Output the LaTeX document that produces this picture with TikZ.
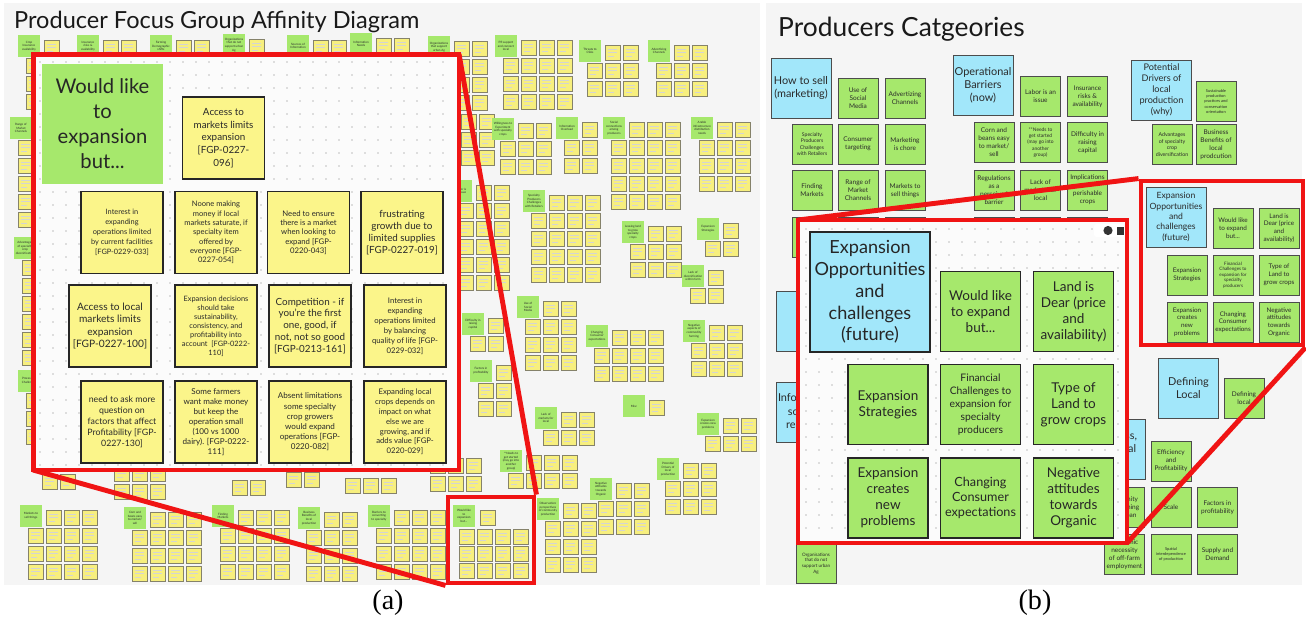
\documentclass[tikz,border=0pt]{standalone}
\usepackage{fontspec}
\setmainfont{Lato}
\newfontfamily\capfont{Liberation Serif}
\usetikzlibrary{positioning}

\definecolor{boardbg}{HTML}{F5F5F5}
\definecolor{insetbg}{HTML}{FBFBFB}
\definecolor{noteyel}{HTML}{FBF58A}
\definecolor{tinyyel}{HTML}{F7EF7E}
\definecolor{stickedge}{HTML}{85826A}
\definecolor{notegrn}{HTML}{A6E86C}
\definecolor{noteblu}{HTML}{A2E7FA}
\definecolor{zoomred}{HTML}{F01414}
\definecolor{inktext}{HTML}{2A2A2A}

\newcommand{\fs}[2]{\fontsize{#1}{#2}\selectfont}

% a tiny sticky with scribbled lines for its text
\newcommand{\sticky}[2]{%
  \draw[tinynote] ({#1},{#2}) rectangle ++(15,15);
  \draw[scrib] ({#1+3},{#2+4}) -- ++(9,0) ({#1+3},{#2+7.5}) -- ++(9,0) ({#1+3},{#2+11}) -- ++(6,0);}

% green header with its stickies: name, x, y, cols, rows, label
\newcommand{\cluster}[6]{%
  \foreach \cc in {1,...,#4}{\foreach \rr in {1,...,#5}{%
    \ifnum\cc\rr=11 \else\sticky{#2+8+(\cc-1)*18}{#3+5+(\rr-1)*18}\fi}}
  \node[hdr] (#1) at ({#2+11},{#3+11}) {#6};}

% stickies only
\newcommand{\stickgrid}[4]{%
  \foreach \cc in {1,...,#3}{\foreach \rr in {1,...,#4}{%
    \sticky{#1+(\cc-1)*18}{#2+(\rr-1)*18}}}}

\begin{document}
\begin{tikzpicture}[x=0.02cm, y=-0.02cm,
    tinynote/.style={fill=tinyyel, draw=stickedge, line width=0.35pt},
    scrib/.style={draw=black!17, line width=0.2pt},
    hdr/.style={fill=notegrn, minimum size=0.44cm, inner sep=0.2pt, align=center, text=inktext, font=\fs{1.7}{2.1}},
    ynote/.style={fill=noteyel, draw=black!85, line width=1.1pt, minimum size=1.64cm, inner sep=0.5pt, align=center, text=inktext},
    bighdr/.style={fill=notegrn, minimum width=2.42cm, minimum height=2.4cm, align=center, text=black!85, font=\fs{11.5}{14.2}},
    gnote/.style={fill=notegrn, draw=black!85, line width=1.1pt, minimum size=1.6cm, inner sep=0.5pt, align=center, text=black!85, font=\fs{7.7}{9.1}},
    bnote/.style={fill=noteblu, draw=black!85, line width=1.1pt, minimum size=2.4cm, inner sep=0.5pt, align=center, text=black!85, font=\fs{10.3}{12.4}},
    gsm/.style={fill=notegrn, draw=black!70, line width=0.5pt, minimum size=0.8cm, inner sep=0.3pt, align=center, text=inktext, font=\fs{3.7}{4.6}},
    bsm/.style={fill=noteblu, draw=black!70, line width=0.5pt, minimum size=1.2cm, inner sep=0.3pt, align=center, text=inktext, font=\fs{6.2}{7.5}},
    zoombox/.style={draw=zoomred, line width=2.8pt},
    zoomline/.style={draw=zoomred, line width=2.8pt},
    gdot/.style={fill=black!25},
    capt/.style={font=\capfont\fs{16}{18}}
]
\useasboundingbox (0,0) rectangle (1306,619);

% boards
\fill[boardbg] (4,3) rectangle (760,585);
\fill[boardbg] (766,3) rectangle (1302,585);

%%%%%%%%%%%%%%%% (a) affinity board %%%%%%%%%%%%%%%%
\node[anchor=base west, font=\fs{13.4}{16}, text=black!90] (titleA) at (8,28) {Producer Focus Group Affinity Diagram};

% top strip
\cluster{crop}{18}{35}{2}{4}{Crop\\Insurance\\availability}
\cluster{insrisk}{77}{35}{3}{2}{Insurance\\risks \&\\availability}
\cluster{demog}{150}{35}{3}{2}{Farming\\Demographic\\shifts}
\cluster{orgno}{223}{34}{2}{2}{Organizations\\that do not\\support urban\\Ag}
\cluster{sources}{287}{35}{3}{2}{Sources of\\Information}
\cluster{infoneed}{350}{33}{3}{2}{Information\\Needs}
\cluster{orgyes}{428}{36}{3}{4}{Organizations\\that support\\urban Ag}

% left column
\cluster{range}{10}{117}{1}{6}{Range of\\Market\\Channels}
\cluster{advant}{14}{237}{2}{7}{Advantages\\of specialty\\crop\\diversification}
\cluster{processing}{18}{370}{2}{4}{Processing\\Challenges}

% middle
\stickgrid{461}{114}{2}{3}
\cluster{prsup}{495}{35}{4}{4}{PR support\\and connect\\local}
\cluster{csa}{579}{40}{3}{3}{Threats to\\CSAs}
\cluster{advch}{648}{40}{3}{3}{Advertizing\\Channels}
\cluster{willing}{492}{118}{3}{3}{Willingness to\\Experiment\\with specialty\\crops}
\cluster{overload}{556}{117}{2}{3}{Information\\Overload}
\cluster{social}{603}{117}{4}{5}{Social\\connections\\among\\producers}
\cluster{infra}{691}{117}{3}{4}{Arable\\infrastructure\\distribution\\needs}
\cluster{labor}{450}{180}{3}{6}{Labor is\\an issue}
\cluster{retail}{523}{190}{4}{5}{Specialty\\Producers\\Challenges\\with Retailers}
\cluster{leasing}{622}{221}{3}{3}{Leasing land\\to grow\\specialty\\crops}
\cluster{expstr}{697}{218}{2}{2}{Expansion\\Strategies}
\cluster{divers}{682}{265}{2}{2}{Lack of\\diversification\\within farm}
\cluster{socmed}{517}{296}{3}{4}{Use of\\Social\\Media}
\cluster{capital}{462}{313}{2}{2}{Difficulty in\\raising\\capital}
\cluster{factors}{470}{360}{2}{3}{Factors in\\profitability}
\cluster{motiv}{586}{325}{4}{3}{Changing\\Consumer\\expectations}
\cluster{negcom}{683}{320}{3}{3}{Negative\\aspects of\\commodity\\farming}
\cluster{misc}{623}{395}{2}{1}{Misc}
\cluster{lackm}{535}{407}{3}{2}{Lack of\\markets for\\local}
\cluster{expcr}{697}{413}{3}{2}{Expansion\\creates new\\problems}
\cluster{needs}{500}{450}{4}{2}{**Needs to\\get started\\(may go into\\another\\group)}
\cluster{drivers}{657}{458}{3}{3}{Potential\\Drivers of\\local\\production}
\cluster{negorg}{590}{478}{3}{3}{Negative\\attitudes\\towards\\Organic}

% under the zoom and bottom row
\stickgrid{42}{474}{2}{1}
\stickgrid{114}{466}{3}{2}
\stickgrid{232}{480}{2}{1}
\stickgrid{286}{472}{2}{1}
\stickgrid{345}{478}{3}{1}
\stickgrid{430}{458}{3}{2}
\cluster{mkts}{20}{505}{4}{4}{Markets to\\sell things}
\cluster{cornb}{124}{507}{4}{4}{Corn and\\beans easy\\to market/\\sell}
\cluster{findm}{212}{505}{4}{4}{Finding\\Markets}
\cluster{busb}{298}{507}{3}{4}{Business\\Benefits of\\local\\production}
\cluster{barr}{368}{505}{4}{4}{Barriers to\\converting\\to specialty}
\cluster{observ}{537}{498}{3}{4}{Observation:\\perspectives\\of community\\production}

% the group that gets enlarged
\sticky{480}{510}
\foreach \cc in {1,...,4}{\foreach \rr in {1,...,3}{\sticky{459+(\cc-1)*18}{529+(\rr-1)*17}}}
\node[hdr] (wouldsm) at (464,516) {Would like\\to\\expansion\\but...};
\node[zoombox, minimum size=1.72cm] (smallA) at (491,540) {};

% zoomed view
\draw[zoomline] (smallA.south west) -- (33,470);
\draw[zoomline] (smallA.north east) -- (459,54);
\node[zoombox, fill=insetbg, minimum width=8.52cm, minimum height=8.32cm] (insetA) at (246,262) {};
\foreach \i in {0,...,31}{\foreach \j in {0,...,31}{\fill[gdot] ({40+\i*13},{62+\j*13}) circle (0.45pt);}}

\node[bighdr] (wouldhdr) at (102.5,124) {Would like\\to\\expansion\\but...};
\node[ynote, font=\fs{5.6}{7.2}] (accmkt) at (223.5,138) {Access to\\markets limits\\expansion\\{}[FGP-0227-\\096]};

\node[ynote, font=\fs{4.2}{5.7}] (intfac) at (122,232.5) {Interest in\\expanding\\operations limited\\by current facilities\\{}[FGP-0229-033]};
\node[ynote, font=\fs{4.3}{5.3}] (noone) at (216,232.5) {Noone making\\money if local\\markets saturate, if\\specialty item\\offered by\\everyone [FGP-\\0227-054]};
\node[ynote, font=\fs{4.4}{5.3}] (ensure) at (308.5,232.5) {Need to ensure\\there is a market\\when looking to\\expand [FGP-\\0220-043]};
\node[ynote, font=\fs{5.6}{6.9}] (frustr) at (402,232.5) {frustrating\\growth due to\\limited supplies\\{}[FGP-0227-019]};

\node[ynote, font=\fs{5.8}{7}] (acclocal) at (110,326) {Access to local\\markets limits\\expansion\\{}[FGP-0227-100]};
\node[ynote, font=\fs{4.2}{5.1}] (decis) at (216,326) {Expansion decisions\\should take\\sustainability,\\consistency, and\\profitability into\\account~ [FGP-0222-\\110]};
\node[ynote, font=\fs{5.6}{6.8}] (compet) at (310,326) {Competition - if\\you're the first\\one, good, if\\not, not so good\\{}[FGP-0213-161]};
\node[ynote, font=\fs{4.4}{5.7}] (intqol) at (405,326) {Interest in\\expanding\\operations limited\\by balancing\\quality of life [FGP-\\0229-032]};

\node[ynote, font=\fs{5}{6.2}] (askmore) at (122,422) {need to ask more\\question on\\factors that affect\\Profitability [FGP-\\0227-130]};
\node[ynote, font=\fs{4.6}{5.7}] (somefarm) at (216,422) {Some farmers\\want make money\\but keep the\\operation small\\(100 vs 1000\\dairy). [FGP-0222-\\111]};
\node[ynote, font=\fs{4.6}{5.8}] (absent) at (310,422) {Absent limitations\\some specialty\\crop growers\\would expand\\operations [FGP-\\0220-082]};
\node[ynote, font=\fs{4.4}{5.6}] (expandloc) at (405,422) {Expanding local\\crops depends on\\impact on what\\else we are\\growing, and if\\adds value [FGP-\\0220-029]};

\node[capt] (capa) at (388,603) {(a)};

%%%%%%%%%%%%%%%% (b) categories board %%%%%%%%%%%%%%%%
\node[anchor=base west, font=\fs{15}{18}, text=black!90] (titleB) at (772,36) {Producers Catgeories};

% how to sell
\node[bsm] (howsell) at (801,88) {How to sell\\(marketing)};
\node[gsm] (socmedia) at (858,98.5) {Use of\\Social\\Media};
\node[gsm] (advert) at (905,98.5) {Advertizing\\Channels};
\node[gsm, font=\fs{2.9}{3.6}] (specprod) at (812,144) {Specialty\\Producers\\Challenges\\with Retailers};
\node[gsm] (consumer) at (858,144) {Consumer\\targeting};
\node[gsm] (chore) at (905,144) {Marketing\\is chore};
\node[gsm] (findmkt) at (812,190.5) {Finding\\Markets};
\node[gsm] (rangemkt) at (858,190.5) {Range of\\Market\\Channels};
\node[gsm] (sellthings) at (905,190.5) {Markets to\\sell things};
\node[gsm] (sellD) at (812,237) {};
\node[gsm] (sellE) at (858,237) {};
\node[gsm] (sellF) at (905,237) {};

% operational barriers
\node[bsm] (opbarr) at (983,85.5) {Operational\\Barriers\\(now)};
\node[gsm] (laborb) at (1040.5,96.5) {Labor is an\\issue};
\node[gsm] (insriskb) at (1087.5,96.5) {Insurance\\risks \&\\availability};
\node[gsm] (cornbeans) at (994,142.5) {Corn and\\beans easy\\to market/\\sell};
\node[gsm, font=\fs{2.8}{3.5}] (needsstart) at (1040.5,142.5) {**Needs to\\get started\\(may go into\\another\\group)};
\node[gsm] (raisecap) at (1087.5,142.5) {Difficulty in\\raising\\capital};
\node[gsm] (regul) at (994,190) {Regulations\\as a\\perceived\\barrier};
\node[gsm] (lackmkt) at (1040.5,190) {Lack of\\markets for\\local};
\node[gsm] (perish) at (1087.5,190) {Implications\\of\\perishable\\crops};
\node[gsm] (opD) at (994,237) {};
\node[gsm] (opE) at (1040.5,237) {};
\node[gsm] (opF) at (1087.5,237) {};

% potential drivers
\node[bsm, font=\fs{5.2}{6.3}] (potdrv) at (1161.5,90) {Potential\\Drivers of\\local\\production\\(why)};
\node[gsm, font=\fs{2.3}{2.9}] (sustain) at (1216,101.5) {Sustainable\\production\\practices and\\conservation\\orientation};
\node[gsm, font=\fs{3}{3.8}] (advspec) at (1172,144.5) {Advantages\\of specialty\\crop\\diversification};
\node[gsm] (busben) at (1216,144.5) {Business\\Benefits of\\local\\prodcution};

% defining local and friends
\node[bsm] (deflocal) at (1188.5,388) {Defining\\Local};
\node[gsm] (deflocsm) at (1244,398.5) {Defining\\local};
\node[bsm] (busfin) at (1115,449) {Business,\\Financial\\(how)};
\node[gsm] (effic) at (1171,461) {Efficiency\\and\\Profitability};
\node[gsm] (proxim) at (1124.5,507.5) {Proximity\\of farming\\to urban};
\node[gsm] (scale) at (1171,507.5) {Scale};
\node[gsm] (factorsb) at (1217.5,507.5) {Factors in\\profitability};
\node[gsm] (econ) at (1124.5,554.5) {Economic\\necessity\\of off-farm\\employment};
\node[gsm, font=\fs{2.3}{2.9}] (spatial) at (1171,554.5) {Spatial\\interdependence\\of production};
\node[gsm] (supply) at (1217.5,554.5) {Supply and\\Demand};

% left edge
\node[bsm] (leftblue) at (806,321.5) {};
\node[bsm] (infosrc) at (806,412) {Information\\sources\\required};
\node[gsm, font=\fs{2.6}{3.3}] (orgsnob) at (816,563.5) {Organisations\\that do not\\support urban\\Ag};

% the category that gets enlarged
\node[bsm, font=\fs{4.9}{5.9}] (expoppsm) at (1176,217) {Expansion\\Opportunities\\and\\challenges\\(future)};
\node[gsm, font=\fs{3.6}{4.4}] (wouldexpsm) at (1233,228) {Would like\\to expand\\but...};
\node[gsm, font=\fs{3.6}{4.4}] (landsm) at (1279,228) {Land is\\Dear (price\\and\\availability)};
\node[gsm, font=\fs{3.6}{4.4}] (strasm) at (1187,275) {Expansion\\Strategies};
\node[gsm, font=\fs{2.6}{3.2}] (finsm) at (1233,275) {Financial\\Challenges to\\expansion for\\specialty\\producers};
\node[gsm, font=\fs{3.6}{4.4}] (typesm) at (1279,275) {Type of\\Land to\\grow crops};
\node[gsm, font=\fs{3.6}{4.4}] (newsm) at (1187,322) {Expansion\\creates\\new\\problems};
\node[gsm, font=\fs{3.6}{4.4}] (chgsm) at (1233,322) {Changing\\Consumer\\expectations};
\node[gsm, font=\fs{3.6}{4.4}] (negsm) at (1279,322) {Negative\\attitudes\\towards\\Organic};
\node[zoombox, minimum width=3.24cm, minimum height=3.28cm] (smallB) at (1222,263) {};

% zoomed view
\draw[zoomline] (smallB.north west) -- (798,220);
\draw[zoomline] (smallB.south east) -- (1127,543);
\node[zoombox, fill=insetbg, minimum width=6.58cm, minimum height=6.46cm] (insetB) at (962.5,381.5) {};
\foreach \i in {0,...,24}{\foreach \j in {0,...,23}{\fill[gdot] ({806+\i*13},{229+\j*13}) circle (0.45pt);}}
\fill[white, rounded corners=1pt] (1094,224) rectangle (1124,237);
\fill[black!80] (1108,230.5) circle (2.6pt);
\fill[black!80] (1117,226.5) rectangle (1124,234.5);

\node[bnote] (expopp) at (870,292) {Expansion\\Opportunities\\and\\challenges\\(future)};
\node[gnote] (wouldexp) at (980.5,311.5) {Would like\\to expand\\but...};
\node[gnote] (landdear) at (1073.5,311.5) {Land is\\Dear (price\\and\\availability)};
\node[gnote] (expstrat) at (888,404.5) {Expansion\\Strategies};
\node[gnote, font=\fs{5.9}{7.3}] (financial) at (980.5,404.5) {Financial\\Challenges to\\expansion for\\specialty\\producers};
\node[gnote] (typeland) at (1073.5,404.5) {Type of\\Land to\\grow crops};
\node[gnote] (expnew) at (888,498) {Expansion\\creates\\new\\problems};
\node[gnote, font=\fs{7.2}{8.6}] (changing) at (980.5,498) {Changing\\Consumer\\expectations};
\node[gnote] (negattit) at (1073.5,498) {Negative\\attitudes\\towards\\Organic};

\node[capt] (capb) at (1035,603) {(b)};
\end{tikzpicture}
\end{document}
